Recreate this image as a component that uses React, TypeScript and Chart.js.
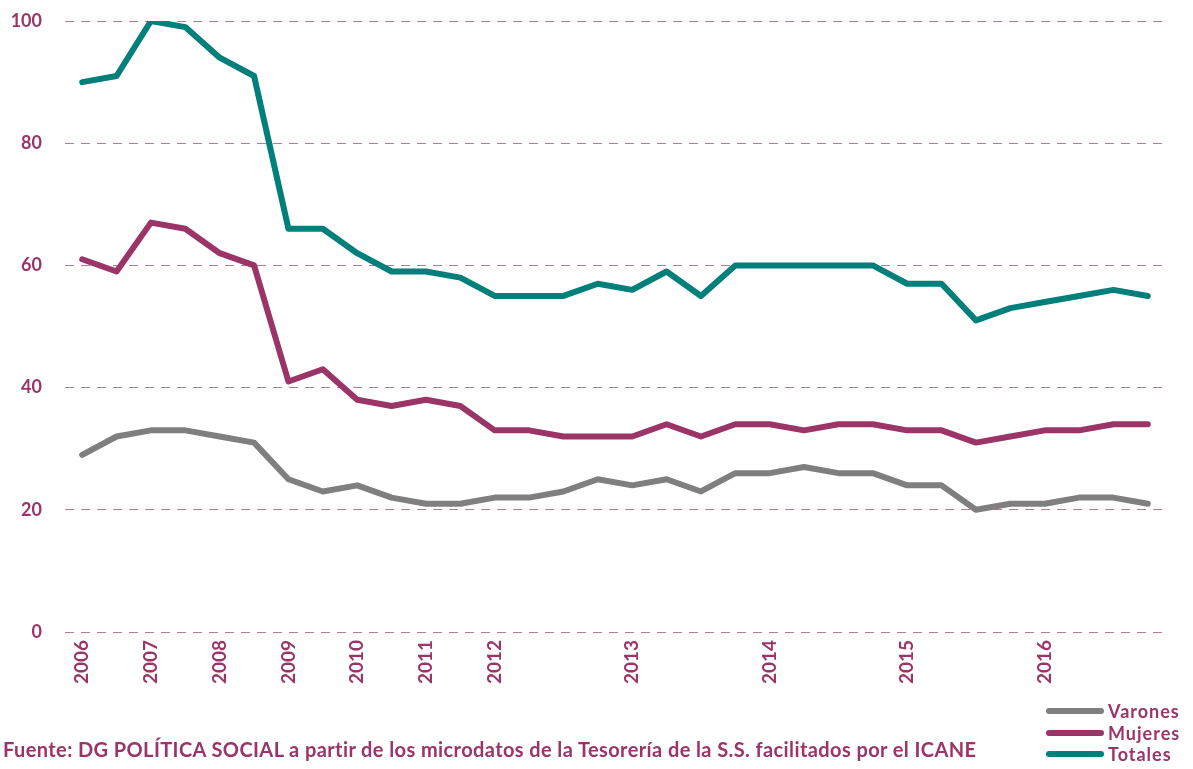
import React, { useEffect, useRef } from "react";
import { Chart, registerables } from "chart.js";

Chart.register(...registerables);

const categories: string[] = [
  "2006", "", "2007", "", "2008", "", "2009", "", "2010", "", "2011", "", "2012", "", "", "",
  "2013", "", "", "", "2014", "", "", "", "2015", "", "", "", "2016", "", "", "",
];

const varones: number[] = [
  29, 32, 33, 33, 32, 31, 25, 23, 24, 22, 21, 21, 22, 22, 23, 25,
  24, 25, 23, 26, 26, 27, 26, 26, 24, 24, 20, 21, 21, 22, 22, 21,
];

const mujeres: number[] = [
  61, 59, 67, 66, 62, 60, 41, 43, 38, 37, 38, 37, 33, 33, 32, 32,
  32, 34, 32, 34, 34, 33, 34, 34, 33, 33, 31, 32, 33, 33, 34, 34,
];

const totales: number[] = [
  90, 91, 100, 99, 94, 91, 66, 66, 62, 59, 59, 58, 55, 55, 55, 57,
  56, 59, 55, 60, 60, 60, 60, 60, 57, 57, 51, 53, 54, 55, 56, 55,
];

const yTicks: number[] = [0, 20, 40, 60, 80, 100];

const MAROON = "#9B3568";
const TEAL = "#007F7B";
const GRAY = "#7F7F7F";
const FONT = "Lato, 'Open Sans', sans-serif";

const seriesList = [
  { name: "Varones", data: varones, color: GRAY },
  { name: "Mujeres", data: mujeres, color: MAROON },
  { name: "Totales", data: totales, color: TEAL },
];

export default function App() {
  const ref = useRef<HTMLCanvasElement | null>(null);

  useEffect(() => {
    if (!ref.current) return;
    const chart = new Chart(ref.current, {
      type: "line",
      data: {
        labels: categories,
        datasets: seriesList.map((s) => ({
          label: s.name,
          data: s.data,
          borderColor: s.color,
          backgroundColor: s.color,
          borderWidth: 6,
          pointRadius: 0,
          tension: 0,
          borderCapStyle: "round" as const,
          borderJoinStyle: "round" as const,
        })),
      },
      options: {
        animation: false,
        responsive: false,
        maintainAspectRatio: false,
        layout: { padding: { top: 21, right: 28, bottom: 0, left: 0 } },
        plugins: {
          legend: { display: false },
          tooltip: { enabled: false },
        },
        scales: {
          x: {
            offset: true,
            grid: { display: false, drawTicks: false },
            border: { display: false },
            afterFit: (scale: any) => {
              scale.height = 137;
            },
            ticks: {
              autoSkip: false,
              maxRotation: 90,
              minRotation: 90,
              padding: 8,
              color: MAROON,
              font: { family: FONT, size: 19, weight: "bold" },
            },
          },
          y: {
            min: 0,
            max: 100,
            afterFit: (scale: any) => {
              scale.width = 65;
              scale.paddingTop = 0;
              scale.paddingBottom = 0;
            },
            afterBuildTicks: (scale: any) => {
              scale.ticks = yTicks.map((v) => ({ value: v }));
            },
            grid: {
              color: "#B7789A",
              lineWidth: 1,
              drawTicks: false,
            },
            border: { display: false, dash: [9, 7] },
            ticks: {
              padding: 23,
              color: MAROON,
              font: { family: FONT, size: 18, weight: "bold" },
            },
          },
        },
      },
    });
    return () => chart.destroy();
  }, []);

  return (
    <div style={{ position: "fixed", left: 0, top: 0, width: 1193, height: 769, background: "#fff" }}>
      <canvas ref={ref} width={1193} height={769} style={{ position: "absolute", left: 0, top: 0, width: 1193, height: 769 }} />
      <div
        style={{
          position: "absolute",
          left: 3,
          top: 737,
          fontFamily: FONT,
          fontWeight: "bold",
          fontSize: 20,
          letterSpacing: 0.4,
          color: MAROON,
          whiteSpace: "nowrap",
          lineHeight: "24px",
        }}
      >
        Fuente: DG POLÍTICA SOCIAL a partir de los microdatos de la Tesorería de la S.S. facilitados por el ICANE
      </div>
      {seriesList.map((s, i) => (
        <div
          key={s.name}
          style={{
            position: "absolute",
            left: 1046,
            top: 700 + i * 21.5,
            height: 22,
            display: "flex",
            alignItems: "center",
            fontFamily: FONT,
            fontWeight: "bold",
            fontSize: 18,
            color: MAROON,
            whiteSpace: "nowrap",
            letterSpacing: 1,
          }}
        >
          <span style={{ display: "inline-block", width: 58, height: 6, borderRadius: 3, background: s.color, marginRight: 4 }} />
          <span>{s.name}</span>
        </div>
      ))}
    </div>
  );
}
